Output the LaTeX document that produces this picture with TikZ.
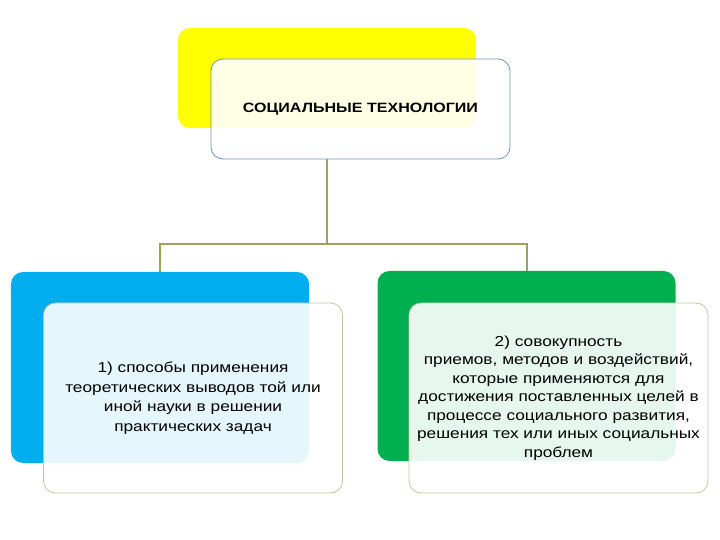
\documentclass[tikz,border=0pt]{standalone}
\usepackage{fontspec}
\setmainfont{Liberation Sans}
\newfontfamily\widefont[FakeStretch=1.19]{Liberation Sans}
\usetikzlibrary{positioning}

\definecolor{yel}{HTML}{FFFF00}
\definecolor{sky}{HTML}{00ADEF}
\definecolor{grn}{HTML}{00B050}
\definecolor{line}{HTML}{9EA060}
\definecolor{topedge}{HTML}{6E93BE}
\definecolor{boxedge}{HTML}{C8C29C}

\tikzset{
	back/.style={rectangle, rounded corners=12bp, minimum width=298bp, minimum height=100bp, inner sep=0pt},
	front/.style={rectangle, rounded corners=12bp, fill=white, fill opacity=0.9, text opacity=1, line width=0.8bp, minimum width=299bp, align=center, inner sep=0pt},
	conn/.style={line, line width=2bp}
}

\begin{document}
\begin{tikzpicture}[x=1bp,y=-1bp]
	\useasboundingbox (0,0) rectangle (720,540);

	% draw back boxes
	\node[back, fill=yel] (back_t) at (327,78) {};
	\node[back, fill=sky, minimum height=191bp] (back_l) at (160,367.5) {};
	\node[back, fill=grn, minimum height=190bp] (back_r) at (526.5,366) {};

	% draw front boxes
	\node[front, draw=topedge, minimum height=100bp, font=\widefont\fontsize{13.5bp}{16bp}\selectfont\bfseries] (top) at (360.5,109)
		{СОЦИАЛЬНЫЕ ТЕХНОЛОГИИ};
	\node[front, draw=boxedge, minimum height=190bp, text width=290bp, font=\widefont\fontsize{14.5bp}{19.5bp}\selectfont] (left) at (193,398)
		{1) способы применения\\ теоретических выводов той или\\ иной науки в решении\\ практических задач};
	\node[front, draw=boxedge, minimum height=190bp, text width=295bp, font=\widefont\fontsize{14.5bp}{18.5bp}\selectfont] (right) at (558.5,398)
		{2) совокупность\\ приемов, методов и воздействий,\\ которые применяются для\\ достижения поставленных целей в\\ процессе социального развития,\\ решения тех или иных социальных\\ проблем};

	% draw connectors
	\coordinate (split) at (327,244);
	\draw[conn] (top.south -| back_t.center) -- (split) -| (back_l.north);
	\draw[conn] (split) -| (back_r.north);

\end{tikzpicture}
\end{document}
